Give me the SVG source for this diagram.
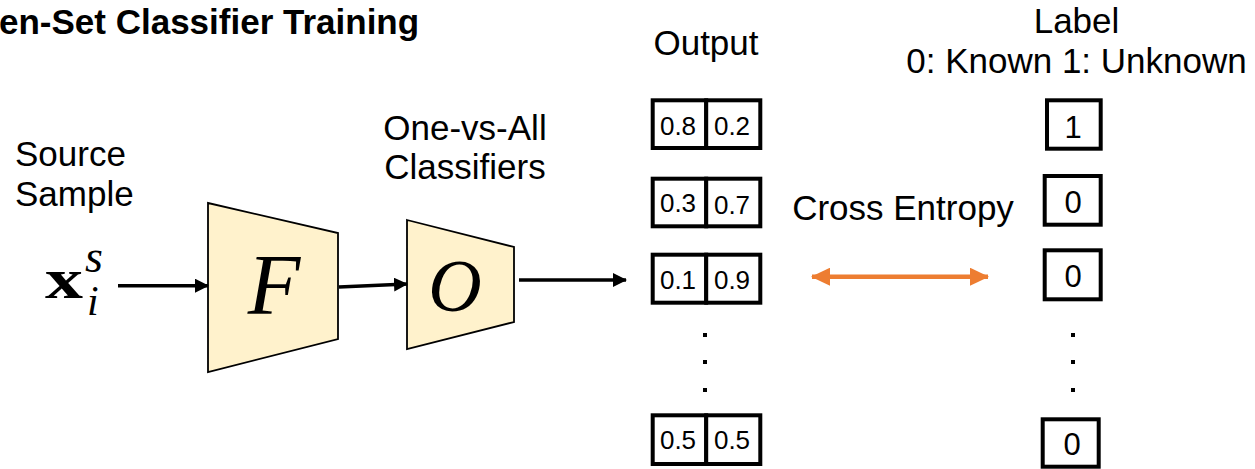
<svg xmlns="http://www.w3.org/2000/svg" width="1255" height="469" viewBox="0 0 1255 469">
<defs>
<style>
.t{font-family:"Liberation Sans",Arial,sans-serif;font-size:35px;fill:#000}
.c{font-family:"Liberation Sans",Arial,sans-serif;font-size:26px;fill:#000;text-anchor:middle}
.d{font-family:"Liberation Sans",Arial,sans-serif;font-size:31px;fill:#000;text-anchor:middle}
.m{font-family:"Liberation Serif","Times New Roman",serif;fill:#000}
.trap{fill:#FFF2CC;stroke:#000;stroke-width:1.8}
.cell{fill:#fff;stroke:#000;stroke-width:4}
.arr{stroke:#000;stroke-width:3.5;fill:none}
.dot{fill:#000}
</style>
<marker id="ah" markerUnits="userSpaceOnUse" markerWidth="14" markerHeight="16" refX="13" refY="7" orient="auto">
<path d="M0,0 L14,7 L0,14 Z" fill="#000"/>
</marker>
<marker id="oh" markerUnits="userSpaceOnUse" markerWidth="19" markerHeight="18" refX="18" refY="9" orient="auto-start-reverse">
<path d="M0,0 L19,9 L0,18 Z" fill="#ED7D31"/>
</marker>
</defs>
<rect width="1255" height="469" fill="#fff"/>

<g id="title">
<text x="-1" y="34" style="font-family:'Liberation Sans',Arial,sans-serif;font-weight:bold;font-size:35px">en-Set Classifier Training</text>
</g>

<g id="source">
<text class="t" x="15" y="166">Source</text>
<text class="t" x="15" y="206">Sample</text>
<text class="m" x="45" y="298" font-size="56" font-weight="bold" textLength="38" lengthAdjust="spacingAndGlyphs">x</text>
<text class="m" x="85" y="272" font-size="46" font-style="italic">s</text>
<text class="m" x="87" y="315" font-size="42" font-style="italic">i</text>
</g>

<g id="F">
<polygon class="trap" points="208,203 338,233 338,339 208,372"/>
<text class="m" x="274" y="314" font-size="86" font-style="italic" text-anchor="middle">F</text>
</g>

<g id="O">
<polygon class="trap" points="407,220 514,247 514,322 407,349"/>
<text x="465" y="140" class="t" text-anchor="middle">One-vs-All</text>
<text x="465" y="179" class="t" text-anchor="middle">Classifiers</text>
<text class="m" x="455" y="311" font-size="74" font-style="italic" text-anchor="middle">O</text>
</g>

<g id="output">
<text x="706" y="55" class="t" text-anchor="middle">Output</text>
<rect class="cell" x="652.7" y="100.3" width="53.5" height="47.7"/>
<rect class="cell" x="706.2" y="100.3" width="54.1" height="47.7"/>
<text class="c" x="678" y="135">0.8</text><text class="c" x="732" y="135">0.2</text>
<rect class="cell" x="652.7" y="178.7" width="53.5" height="47.6"/>
<rect class="cell" x="706.2" y="178.7" width="54.1" height="47.6"/>
<text class="c" x="678" y="212">0.3</text><text class="c" x="732" y="214">0.7</text>
<rect class="cell" x="652.7" y="254.7" width="53.5" height="48"/>
<rect class="cell" x="706.2" y="254.7" width="54.1" height="48"/>
<text class="c" x="678" y="289">0.1</text><text class="c" x="732" y="289">0.9</text>
<rect class="dot" x="703" y="333" width="4" height="4"/>
<rect class="dot" x="703" y="360" width="4" height="4"/>
<rect class="dot" x="703" y="388" width="4" height="4"/>
<rect class="cell" x="652.7" y="415.3" width="53.5" height="48.7"/>
<rect class="cell" x="706.2" y="415.3" width="54.1" height="48.7"/>
<text class="c" x="678" y="449">0.5</text><text class="c" x="732" y="449">0.5</text>
</g>

<g id="cross-entropy">
<text x="903" y="220" class="t" text-anchor="middle">Cross Entropy</text>
</g>

<g id="label">
<text x="1076.5" y="33" class="t" text-anchor="middle">Label</text>
<text x="1076.5" y="73" class="t" text-anchor="middle">0: Known 1: Unknown</text>
<rect class="cell" x="1047" y="100.3" width="53.7" height="48.4"/>
<text class="d" x="1073" y="138">1</text>
<rect class="cell" x="1044.7" y="176" width="56" height="48.7"/>
<text class="d" x="1073" y="213">0</text>
<rect class="cell" x="1044.7" y="250.3" width="56" height="49"/>
<text class="d" x="1073" y="287">0</text>
<rect class="dot" x="1071" y="333" width="4" height="4"/>
<rect class="dot" x="1071" y="360" width="4" height="4"/>
<rect class="dot" x="1071" y="388" width="4" height="4"/>
<rect class="cell" x="1042.7" y="419.3" width="56" height="47.4"/>
<text class="d" x="1072" y="455">0</text>
</g>

<g id="connectors">
<line class="arr" x1="118" y1="285.7" x2="208" y2="285.7" marker-end="url(#ah)"/>
<line class="arr" x1="339" y1="287" x2="407" y2="284" marker-end="url(#ah)"/>
<line class="arr" x1="519" y1="280" x2="626" y2="280" marker-end="url(#ah)"/>
<line x1="812" y1="276.7" x2="988" y2="276.7" stroke="#ED7D31" stroke-width="4.5" marker-start="url(#oh)" marker-end="url(#oh)"/>
</g>
</svg>
